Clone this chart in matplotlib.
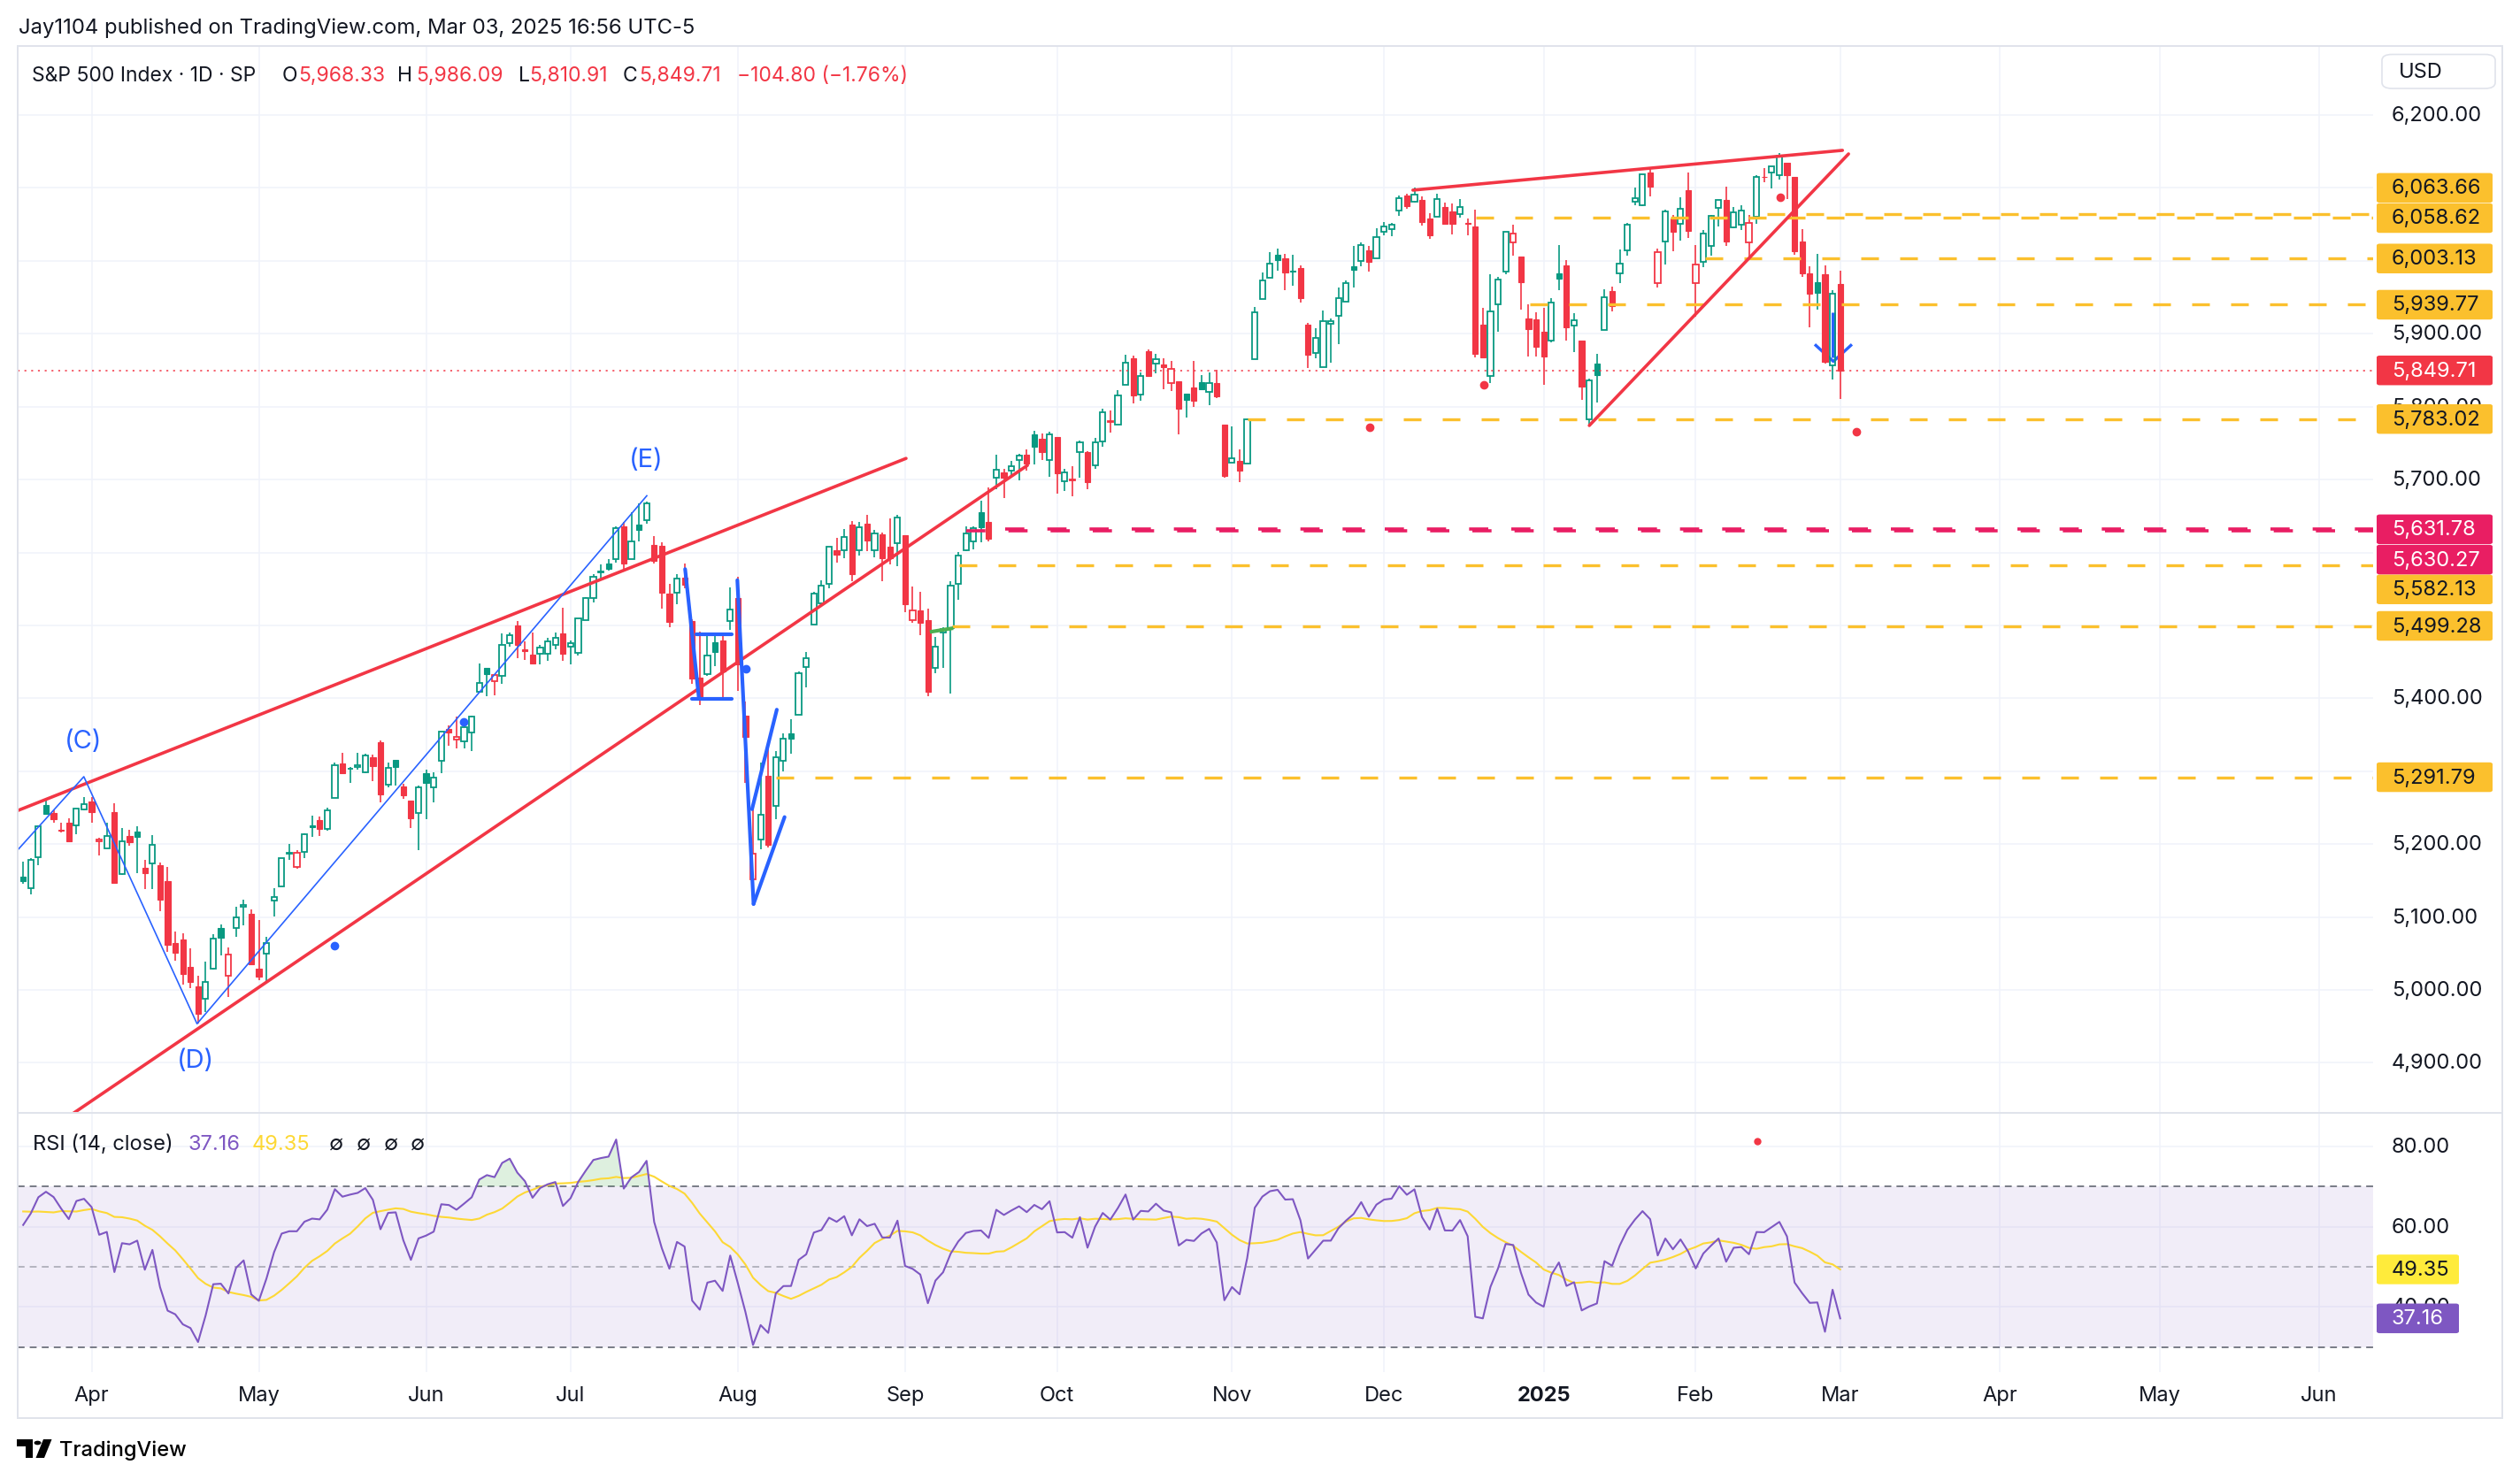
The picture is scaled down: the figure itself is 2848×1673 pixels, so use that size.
import numpy as np
import pandas as pd
import matplotlib
matplotlib.use("Agg")
import matplotlib.pyplot as plt
from matplotlib.patches import Rectangle, FancyBboxPatch, Polygon, Circle
from matplotlib.lines import Line2D
from matplotlib.transforms import blended_transform_factory

plt.rcParams['font.family'] = ['Inter', 'DejaVu Sans']

W, H = 2848, 1674

# S&P 500 daily bars, Mar 18 2024 .. Mar 3 2025 (bar 0 = Mar 18 2024)
first_day = '2024-03-18'
last_day = '2025-03-03'
holidays = ['2024-03-29', '2024-05-27', '2024-06-19', '2024-07-04', '2024-09-02',
            '2024-11-28', '2024-12-25', '2025-01-01', '2025-01-09', '2025-01-20',
            '2025-02-17', '2025-04-18', '2025-05-26']

open_ = [
    5154.77, 5139.09, 5181.69, 5253.43, 5242.48, 5219.52, 5228.85, 5226.31, 5248.03,
    5257.97, 5204.29, 5194.37, 5244.05, 5158.95, 5211.37, 5217.03, 5167.88, 5172.95, 5171.51, 5149.67,
    5064.59, 5068.97, 5031.52, 5005.44, 4987.33, 5028.85, 5084.86, 5019.88, 5084.65, 5114.13, 5103.78,
    5029.03, 5049.32, 5122.78, 5142.42, 5187.20, 5168.98, 5189.03, 5225.49, 5233.08, 5221.10, 5263.26,
    5310.07, 5303.10, 5305.35, 5298.69, 5319.28, 5340.26, 5281.45, 5315.91, 5278.73, 5259.77, 5243.21,
    5297.15, 5278.24, 5314.48, 5357.80, 5343.81, 5341.22, 5353.00, 5409.13, 5441.93, 5424.08, 5431.11,
    5476.15, 5499.99, 5466.77, 5459.58, 5460.73, 5460.71, 5473.59, 5488.48,
    5471.08, 5461.84, 5507.44, 5537.91, 5572.75, 5584.24, 5591.26, 5635.21, 5590.76, 5638.16, 5644.09,
    5610.07, 5608.56, 5543.37, 5544.54, 5565.30, 5505.84, 5428.70, 5433.67, 5476.55, 5478.73, 5505.59,
    5537.84, 5376.63, 5151.14, 5206.42, 5293.13, 5252.57, 5314.69, 5351.88, 5376.98, 5442.56, 5501.13,
    5530.50, 5557.23, 5602.88, 5603.09, 5637.77, 5602.83, 5639.66, 5602.89, 5624.51, 5607.30, 5612.74,
    5623.89, 5506.68, 5520.08, 5507.33, 5442.07, 5490.51, 5496.42, 5557.48, 5603.34, 5615.21, 5655.51,
    5641.68, 5702.63, 5709.55, 5711.90, 5727.38, 5733.65, 5762.22, 5755.36, 5726.52,
    5757.73, 5698.19, 5698.56, 5737.44, 5737.80, 5719.14, 5751.80, 5778.36, 5775.09, 5829.81, 5866.74,
    5816.58, 5875.62, 5859.43, 5857.82, 5832.70, 5834.50, 5817.80, 5826.75, 5833.93, 5819.68, 5832.65, 5775.34,
    5723.22, 5725.15, 5722.43, 5864.89, 5947.21, 5976.76, 6008.86, 6003.60, 5985.75, 5989.60, 5912.79,
    5874.17, 5853.63, 5914.02, 5924.30, 5944.36, 5992.28, 6000.03, 6014.11, 6003.98,
    6040.11, 6042.97, 6069.39, 6089.03, 6081.38, 6083.01, 6057.59, 6060.15, 6074.29, 6068.17, 6063.79,
    6052.55, 6047.65, 5912.71, 5842.00, 5940.25, 5984.63, 6024.97, 6006.17, 5920.67, 5919.74,
    5903.26, 5891.07, 5982.81, 5993.26, 5910.66, 5890.22, 5782.38, 5859.06, 5905.21, 5958.53, 5982.33,
    6014.12, 6081.39, 6076.32, 6121.43, 5969.04, 6026.97, 6057.70, 6050.75, 6096.79,
    5969.65, 5998.14, 6020.45, 6072.22, 6083.13, 6046.40, 6049.32, 6025.08, 6060.59, 6115.52, 6121.60,
    6117.76, 6134.50, 6114.82, 6026.69, 5982.73, 5970.87, 5981.88, 5856.74,
    5968.33,
]
high = [
    5175.60, 5180.31, 5226.19, 5261.10, 5246.09, 5229.09, 5235.16, 5249.26, 5264.85,
    5263.95, 5208.34, 5228.75, 5256.59, 5222.18, 5219.57, 5224.81, 5178.43, 5211.78, 5175.03, 5168.43,
    5079.84, 5077.96, 5056.66, 5019.02, 5038.84, 5076.12, 5089.48, 5057.75, 5114.62, 5123.49, 5110.83,
    5096.12, 5073.21, 5139.12, 5181.00, 5200.23, 5191.95, 5214.53, 5239.66, 5237.26, 5250.37, 5311.76,
    5325.49, 5305.45, 5325.32, 5324.32, 5323.18, 5341.88, 5311.65, 5315.91, 5282.27, 5260.21, 5280.33,
    5302.11, 5298.80, 5354.16, 5362.35, 5375.08, 5365.79, 5375.95, 5447.25, 5441.93, 5432.39, 5488.50,
    5490.38, 5505.53, 5478.31, 5490.66, 5472.88, 5483.14, 5490.81, 5523.64,
    5479.55, 5509.69, 5539.27, 5570.33, 5583.11, 5590.75, 5635.39, 5642.45, 5655.56, 5666.94, 5669.67,
    5622.49, 5614.05, 5557.50, 5570.36, 5585.34, 5508.04, 5491.59, 5488.32, 5487.74, 5489.46, 5551.51,
    5566.16, 5395.03, 5250.89, 5312.34, 5330.64, 5328.03, 5351.88, 5371.20, 5436.50, 5463.22, 5546.23,
    5561.98, 5608.30, 5620.51, 5632.68, 5643.22, 5641.82, 5651.62, 5631.18, 5627.03, 5646.95, 5651.37,
    5623.89, 5552.99, 5546.30, 5522.47, 5484.20, 5497.91, 5560.41, 5600.71, 5636.27, 5636.05, 5670.81,
    5689.75, 5733.57, 5715.14, 5725.36, 5735.32, 5741.03, 5767.37, 5763.78, 5765.14,
    5757.73, 5714.86, 5718.78, 5753.19, 5739.34, 5757.60, 5796.80, 5795.03, 5822.13, 5871.41, 5870.36,
    5846.52, 5878.46, 5872.17, 5866.92, 5863.04, 5834.85, 5817.80, 5862.82, 5842.92, 5847.19, 5850.94, 5775.34,
    5772.52, 5741.43, 5783.44, 5936.14, 5983.84, 6012.45, 6017.31, 6009.92, 6008.19, 5993.88, 5915.26,
    5908.12, 5932.18, 5920.67, 5963.18, 5972.90, 6020.75, 6025.42, 6020.16, 6044.17,
    6053.58, 6052.06, 6089.84, 6092.59, 6099.97, 6088.51, 6065.40, 6092.59, 6079.68, 6078.58, 6085.19,
    6057.68, 6070.67, 5935.52, 5982.06, 5978.25, 6040.10, 6049.75, 6006.17, 5940.79, 5929.74,
    5935.09, 5949.34, 6021.04, 6000.68, 5927.89, 5890.22, 5838.12, 5871.92, 5960.61, 5964.69, 6014.96,
    6051.51, 6100.81, 6118.73, 6128.18, 6017.17, 6069.92, 6062.83, 6086.64, 6120.91,
    6022.13, 6042.48, 6062.86, 6084.03, 6101.28, 6073.38, 6076.28, 6063.09, 6116.91, 6127.47, 6129.63,
    6147.43, 6134.50, 6114.82, 6043.65, 5992.65, 6009.82, 5993.69, 5959.40,
    5986.09,
]
low = [
    5145.47, 5131.59, 5171.55, 5240.66, 5229.87, 5216.09, 5203.42, 5213.92, 5245.82,
    5229.20, 5184.05, 5194.37, 5146.06, 5157.21, 5197.35, 5160.78, 5138.70, 5138.77, 5107.94, 5052.47,
    5039.83, 5007.25, 5001.89, 4953.56, 4969.40, 5027.96, 5047.02, 4990.58, 5073.14, 5088.65, 5035.31,
    5013.45, 5011.05, 5101.22, 5142.42, 5178.96, 5165.86, 5180.41, 5209.68, 5211.16, 5217.98, 5263.26,
    5296.19, 5283.59, 5302.40, 5297.87, 5286.01, 5256.93, 5278.39, 5280.89, 5262.70, 5222.10, 5191.68,
    5234.32, 5257.63, 5297.64, 5335.36, 5331.33, 5331.52, 5327.25, 5409.13, 5402.51, 5403.75, 5420.40,
    5471.32, 5455.56, 5452.03, 5447.59, 5446.56, 5451.87, 5467.54, 5451.12,
    5446.53, 5458.43, 5507.42, 5531.63, 5562.51, 5574.57, 5586.44, 5576.53, 5590.44, 5614.75, 5639.02,
    5584.81, 5522.81, 5497.04, 5529.04, 5550.90, 5419.98, 5390.95, 5430.70, 5444.44, 5401.24, 5493.75,
    5410.42, 5283.74, 5119.26, 5193.56, 5195.54, 5233.85, 5300.19, 5324.37, 5376.98, 5415.55, 5501.13,
    5525.17, 5550.74, 5585.50, 5591.57, 5560.95, 5595.37, 5602.34, 5593.48, 5560.95, 5583.71, 5581.79,
    5518.66, 5503.66, 5486.21, 5402.62, 5434.49, 5441.72, 5406.96, 5535.50, 5601.65, 5604.53, 5614.05,
    5615.08, 5686.42, 5674.49, 5704.22, 5698.99, 5712.06, 5721.01, 5727.34, 5703.53,
    5681.29, 5683.73, 5677.37, 5702.83, 5686.85, 5714.56, 5745.02, 5764.76, 5775.09, 5829.81, 5804.48,
    5808.34, 5840.25, 5846.11, 5824.06, 5821.17, 5762.41, 5784.92, 5799.98, 5823.08, 5802.17, 5811.28, 5702.86,
    5723.22, 5696.51, 5722.10, 5864.89, 5947.21, 5976.76, 5986.69, 5960.08, 5965.91, 5942.28, 5853.01,
    5865.95, 5853.63, 5860.58, 5885.46, 5944.36, 5963.91, 5992.27, 5984.87, 6003.98,
    6035.33, 6033.39, 6061.06, 6070.84, 6079.98, 6048.63, 6029.89, 6060.15, 6051.25, 6035.77, 6059.14,
    6035.19, 5867.79, 5866.07, 5832.30, 5902.57, 5981.44, 6007.37, 5932.95, 5869.16, 5868.86,
    5829.53, 5888.66, 5960.01, 5890.68, 5874.78, 5809.22, 5773.31, 5805.86, 5905.21, 5930.60, 5969.24,
    6006.88, 6076.13, 6074.67, 6088.74, 5962.92, 5994.63, 6012.96, 6027.46, 6030.93,
    5923.93, 5990.87, 6007.06, 6046.83, 6019.96, 6045.07, 6042.34, 6003.00, 6051.00, 6107.62, 6099.51,
    6111.15, 6084.59, 6008.56, 5977.83, 5908.49, 5932.69, 5858.78, 5837.66,
    5810.91,
]
close = [
    5149.42, 5178.51, 5224.62, 5241.53, 5234.18, 5218.19, 5203.58, 5248.49, 5254.35,
    5243.77, 5205.81, 5211.49, 5147.21, 5204.34, 5202.39, 5209.91, 5160.64, 5199.06, 5123.41, 5061.82,
    5051.41, 5022.21, 5011.12, 4967.23, 5010.60, 5070.55, 5071.63, 5048.42, 5099.96, 5116.17, 5035.69,
    5018.39, 5064.20, 5127.79, 5180.74, 5187.70, 5187.67, 5214.08, 5222.68, 5221.42, 5246.68, 5308.15,
    5297.10, 5303.27, 5308.13, 5321.41, 5307.01, 5267.84, 5304.72, 5306.04, 5266.95, 5235.48, 5277.51,
    5283.40, 5291.34, 5354.03, 5352.96, 5346.99, 5360.79, 5375.32, 5421.03, 5433.74, 5431.60, 5473.23,
    5487.03, 5473.17, 5464.62, 5447.87, 5469.30, 5477.90, 5482.87, 5460.48,
    5475.09, 5509.01, 5537.02, 5567.19, 5572.85, 5576.98, 5633.91, 5584.54, 5615.35, 5631.22, 5667.20,
    5588.27, 5544.59, 5505.00, 5564.41, 5555.74, 5427.13, 5399.22, 5459.10, 5463.54, 5436.44, 5522.30,
    5446.68, 5346.56, 5186.33, 5240.03, 5199.50, 5319.31, 5344.16, 5344.39, 5434.43, 5455.21, 5543.22,
    5554.25, 5608.25, 5597.12, 5620.85, 5570.64, 5634.61, 5616.84, 5625.80, 5592.18, 5591.96, 5648.40,
    5528.93, 5520.07, 5503.41, 5408.42, 5471.05, 5495.52, 5554.13, 5595.76, 5626.02, 5633.09, 5634.58,
    5618.26, 5713.64, 5702.55, 5718.57, 5732.93, 5722.26, 5745.37, 5738.17, 5762.48,
    5708.75, 5709.54, 5699.94, 5751.07, 5695.94, 5751.13, 5792.04, 5780.05, 5815.03, 5859.85, 5815.26,
    5842.47, 5841.47, 5864.67, 5853.98, 5851.20, 5797.42, 5809.86, 5808.12, 5823.52, 5832.92, 5813.67, 5705.45,
    5728.80, 5712.69, 5782.76, 5929.04, 5973.10, 5995.54, 6001.35, 5983.99, 5985.38, 5949.17, 5870.62,
    5893.62, 5916.98, 5917.11, 5948.71, 5969.34, 5987.37, 6021.63, 5998.74, 6032.38,
    6047.15, 6049.88, 6086.49, 6075.11, 6090.27, 6052.85, 6034.91, 6084.19, 6051.25, 6051.09, 6074.08,
    6050.61, 5872.16, 5867.08, 5930.85, 5974.07, 6040.04, 6037.59, 5970.84, 5906.94, 5881.63,
    5868.55, 5942.47, 5975.38, 5909.03, 5918.25, 5827.04, 5836.22, 5842.91, 5949.91, 5937.34, 5996.66,
    6049.24, 6086.37, 6118.71, 6101.24, 6012.28, 6067.70, 6039.31, 6071.17, 6040.53,
    5994.57, 6037.88, 6061.48, 6083.57, 6025.99, 6066.44, 6068.50, 6051.97, 6115.07, 6114.63, 6129.58,
    6144.15, 6117.52, 6013.13, 5983.25, 5955.25, 5956.06, 5861.57, 5954.50,
    5849.71,
]

# closes before the first visible bar (Jan 2 .. Mar 15 2024), only to seed RSI(14)
warmup_close = [
    4742.83, 4704.81, 4688.68, 4697.24, 4763.54, 4756.50, 4783.45, 4780.24, 4783.83, 4765.98,
    4739.21, 4780.94, 4839.81, 4850.43, 4864.60, 4868.55, 4894.16, 4890.97, 4927.93, 4924.97,
    4845.65, 4906.19, 4958.61, 4942.81, 4954.23, 4995.06, 4997.91, 5026.61, 5021.84, 4953.17,
    5000.62, 5029.73, 5005.57, 4975.51, 4981.80, 5087.03, 5088.80, 5069.53, 5078.18, 5069.76,
    5096.27, 5137.08, 5130.95, 5078.65, 5104.76, 5157.36, 5123.69, 5117.94, 5175.27, 5165.31,
    5150.48, 5117.09,
]

# drawings: (bar, price) anchors
wedge1_upper = [(-0.72, 5246.0), (116.13, 5729.0)]
wedge1_lower = [(6.0, 4826.6), (132.1, 5719.5)]
wedge2_upper = [(182.8, 6096.9), (239.3, 6151.5)]
wedge2_lower = [(206.0, 5774.1), (240.1, 6146.6)]
wave_path = [(-0.71, 5192.1), (7.98, 5292.5), (22.87, 4953.6), (82.03, 5677.8)]
wave_labels = [('(C)', 7.95, 5341.0), ('(D)', 22.7, 4904.0), ('(E)', 81.9, 5727.0)]
blue_thick = [
    [(87.07, 5577.2), (88.89, 5399.6)],
    [(88.58, 5487.5), (93.16, 5487.5)],
    [(87.93, 5399.6), (93.16, 5399.6)],
    [(93.94, 5562.0), (96.07, 5117.9)],
    [(96.07, 5117.9), (100.15, 5237.1)],
    [(95.87, 5247.9), (99.13, 5384.4)],
]
blue_dots = [(40.9, 5061.0), (57.95, 5368.0), (95.03, 5440.7)]
green_seg = [(119.5, 5491.4), (122.1, 5495.8)]
red_dots = [(177.1, 5771.3), (192.1, 5830.3), (231.1, 6087.2), (241.1, 5765.6)]
rsi_red_dot = (228.1, 81.2)
arrow_bar, arrow_top, arrow_tip, arrow_wing = 238.1, 5930.0, 5862.0, 5884.0

# horizontal levels: (price, start bar)
yellow_levels = [(6063.66, 229.4), (6058.62, 191.1), (6003.13, 221.2), (5939.77, 198.2),
                 (5783.02, 161.1), (5582.13, 123.1), (5499.28, 122.2), (5291.79, 99.06)]
pink_levels = [(5631.78, 129.2), (5630.27, 124.0)]
last_close = 5849.71
rsi_last, rsi_ma_last = '37.16', '49.35'

GREEN, RED, BLUE = '#089981', '#f23645', '#2962ff'
YEL, PINK, PURPLE, MAYEL = '#fbc02d', '#e91e63', '#7e57c2', '#fdd835'
GRID, BORDER, TXT = '#f0f3fa', '#e0e3eb', '#131722'

# --- RSI(14) with Wilder smoothing, MA 14 ---
allc = np.array(warmup_close + close)
d = np.diff(allc)
gain, loss = np.clip(d, 0, None), np.clip(-d, 0, None)
ag, al = np.zeros(len(d)), np.zeros(len(d))
ag[13], al[13] = gain[:14].mean(), loss[:14].mean()
for i in range(14, len(d)):
    ag[i] = (ag[i - 1] * 13 + gain[i]) / 14
    al[i] = (al[i - 1] * 13 + loss[i]) / 14
rsi_all = 100 - 100 / (1 + ag / al)
rsi_ma_all = pd.Series(rsi_all).rolling(14).mean().values
n = len(close)
rsi = rsi_all[-n:]
rsi_ma = rsi_ma_all[-n:]
xs = np.arange(n)

dates = pd.bdate_range(first_day, '2025-06-30', freq='C', holidays=holidays)
months = [(i, dd) for i, dd in enumerate(dates) if i > 0 and dd.month != dates[i - 1].month]

# --- figure ---
fig = plt.figure(figsize=(W / 100, H / 100), dpi=100)
fig.patch.set_facecolor('white')


def fx(x):
    return x / W


def fy(y):
    return 1 - y / H


L, R, TOP, SEP, BOT = 20, 2682, 53, 1259, 1552
ax = fig.add_axes([fx(L), fy(SEP), fx(R) - fx(L), fy(TOP) - fy(SEP)])
ax2 = fig.add_axes([fx(L), fy(BOT), fx(R) - fx(L), fy(SEP) - fy(BOT)], sharex=ax)
for a in (ax, ax2):
    for s in a.spines.values():
        s.set_visible(False)
    a.set_xticks([])
    a.set_yticks([])
ax.set_xlim(-0.72, 309.1)
ax.set_ylim(4831.4, 6294.6)
ax2.set_ylim(23.8, 88.3)

# grid
for p in range(4900, 6300, 100):
    ax.axhline(p, color=GRID, lw=1.1, zorder=0)
for v in (40, 60, 80):
    ax2.axhline(v, color=GRID, lw=1.1, zorder=0)
for i, dd in months:
    ax.axvline(i, color=GRID, lw=1.1, zorder=0)
    ax2.axvline(i, color=GRID, lw=1.1, zorder=0)

# arrow (sits behind candles)
ax.plot([arrow_bar, arrow_bar], [arrow_top, arrow_tip + 6], color=BLUE, lw=3.6, zorder=2, solid_capstyle='butt')
ax.plot([arrow_bar - 2.3, arrow_bar, arrow_bar + 2.3], [arrow_wing, arrow_tip, arrow_wing],
        color=BLUE, lw=2.4, zorder=2)

# candles
bw = 0.72
prev = warmup_close[-1]
for i in range(n):
    o, h, l, c = open_[i], high[i], low[i], close[i]
    col = GREEN if c >= prev else RED
    prev = c
    top, bot = max(o, c), min(o, c)
    ax.plot([i, i], [top, h], color=col, lw=1.2, zorder=3, solid_capstyle='butt')
    ax.plot([i, i], [l, bot], color=col, lw=1.2, zorder=3, solid_capstyle='butt')
    hgt = max(top - bot, 0.8)
    if c >= o:
        ax.add_patch(Rectangle((i - bw / 2, bot), bw, hgt, fill=False, ec=col, lw=1.3, zorder=3))
    else:
        ax.add_patch(Rectangle((i - bw / 2, bot), bw, hgt, fc=col, ec=col, lw=0.8, zorder=3))

# horizontal levels
for p, x0 in yellow_levels:
    ax.plot([x0, 400], [p, p], color=YEL, lw=2.4, ls=(0, (6, 7.2)), zorder=4)
for p, x0 in pink_levels:
    ax.plot([x0, 400], [p, p], color=PINK, lw=2.6, ls=(0, (6, 7.2)), zorder=4)
ax.axhline(last_close, color=RED, lw=1.1, ls=(0, (1.4, 3.6)), zorder=4)

# trend lines
for seg in (wedge1_upper, wedge1_lower, wedge2_upper, wedge2_lower):
    ax.plot(*zip(*seg), color=RED, lw=2.6, zorder=5, solid_capstyle='round')
ax.plot(*zip(*wave_path), color=BLUE, lw=1.2, zorder=5)
for seg in blue_thick:
    ax.plot(*zip(*seg), color=BLUE, lw=3.0, zorder=5, solid_capstyle='round')
ax.plot(*zip(*green_seg), color='#4caf50', lw=3.0, zorder=5)
for bx, by in blue_dots:
    ax.plot(bx, by, 'o', color=BLUE, ms=6, zorder=5)
for rx, ry in red_dots:
    ax.plot(rx, ry, 'o', color=RED, ms=6, zorder=5)
for t, bx, by in wave_labels:
    ax.text(bx, by, t, color=BLUE, fontsize=21, ha='center', va='center', zorder=6)

ax.set_xlim(-0.72, 309.1)

# RSI panel
ax2.axhspan(30, 70, color=PURPLE, alpha=0.1, lw=0, zorder=0.5)
ax2.axhline(70, color='#787b86', lw=1.4, ls=(0, (4, 3)), zorder=1)
ax2.axhline(30, color='#787b86', lw=1.4, ls=(0, (4, 3)), zorder=1)
ax2.axhline(50, color='#787b86', lw=1.4, ls=(0, (4, 3)), alpha=0.5, zorder=1)
ax2.fill_between(xs, 70, rsi, where=rsi > 70, interpolate=True, color='#4caf50', alpha=0.18, lw=0, zorder=1)
ax2.fill_between(xs, 30, rsi, where=rsi < 30, interpolate=True, color=RED, alpha=0.18, lw=0, zorder=1)
ax2.plot(xs, rsi_ma, color=MAYEL, lw=1.5, zorder=2)
ax2.plot(xs, rsi, color=PURPLE, lw=1.5, zorder=3)
ax2.plot(*rsi_red_dot, 'o', color=RED, ms=5, zorder=4)

# frame
for (x0, y0, x1, y1) in [(L, TOP, 2828, TOP), (L, SEP, 2828, SEP), (L, 1604, 2828, 1604),
                         (L, TOP, L, 1604), (2828, TOP, 2828, 1604)]:
    fig.add_artist(Line2D([fx(x0), fx(x1)], [fy(y0), fy(y1)], color=BORDER, lw=1.4, zorder=1))

# header texts
fig.text(fx(21), fy(32), 'Jay1104 published on TradingView.com, Mar 03, 2025 16:56 UTC-5',
         fontsize=17.2, color=TXT, va='center')
hdr = [(36.5, 'S&P 500 Index · 1D · SP', TXT), (319, 'O', TXT), (336.7, '5,968.33', RED),
       (449, 'H', TXT), (470, '5,986.09', RED), (585.8, 'L', TXT), (597.7, '5,810.91', RED),
       (703.6, 'C', TXT), (722.6, '5,849.71', RED), (833.4, '\u2212104.80 (\u22121.76%)', RED)]
for x, t, col in hdr:
    fig.text(fx(x), fy(86), t, fontsize=16.5, color=col, va='center', zorder=8)

rsi_hdr = [(37, 'RSI (14, close)', TXT), (212, rsi_last, PURPLE), (285, rsi_ma_last, MAYEL),
           (372, '\u2205', TXT), (403, '\u2205', TXT), (434, '\u2205', TXT), (464, '\u2205', TXT)]
for x, t, col in rsi_hdr:
    fig.text(fx(x), fy(1294), t, fontsize=17, color=col, va='center', zorder=8)

# time axis labels
tb = blended_transform_factory(ax.transData, fig.transFigure)
for i, dd in months:
    lab = '2025' if dd.month == 1 else dd.strftime('%b')
    fig.text(i, fy(1578), lab, transform=tb, fontsize=17, color=TXT, ha='center', va='center',
             fontweight='bold' if dd.month == 1 else 'normal')


# price axis
def ypx(a, v):
    return H - a.transData.transform((0, v))[1]


nudge = {6063.66: -30, 5630.27: 33, 5582.13: 27}
main_boxes = [(p, YEL, TXT) for p, _ in yellow_levels] + [(p, PINK, 'white') for p, _ in pink_levels]
main_boxes.append((last_close, RED, 'white'))
box_y = [ypx(ax, p) + nudge.get(p, 0) for p, _, _ in main_boxes]
rsi_boxes = [(float(rsi_ma_last), '#ffeb3b', TXT), (float(rsi_last), PURPLE, 'white')]
rsi_box_y = [ypx(ax2, v) for v, _, _ in rsi_boxes]

AXX = 2703
for p in range(4900, 6300, 100):
    yy = ypx(ax, p)
    hidden = any(abs(yy - b) < 12 for b in box_y)
    if TOP + 60 < yy < SEP - 15 and not hidden:
        fig.text(fx(AXX), fy(yy), f'{p:,.2f}', fontsize=17, color=TXT, va='center', zorder=5)
for v in (40, 60, 80):
    fig.text(fx(AXX), fy(ypx(ax2, v)), f'{v:.2f}', fontsize=17, color=TXT, va='center', zorder=5)


def box(yc, text, fc, tc, w=131, h=33.5):
    fig.add_artist(FancyBboxPatch((fx(2686), fy(yc + h / 2)), fx(w), h / H,
                                  boxstyle='round,pad=0,rounding_size=0.0012', fc=fc, ec='none',
                                  transform=fig.transFigure, zorder=6))
    fig.text(fx(AXX), fy(yc), text, fontsize=17, color=tc, va='center', zorder=7)


for (p, fc, tc), yy in zip(main_boxes, box_y):
    box(yy, f'{p:,.2f}', fc, tc)
box(rsi_box_y[0], rsi_ma_last, rsi_boxes[0][1], rsi_boxes[0][2], w=93)
box(rsi_box_y[1], rsi_last, rsi_boxes[1][1], rsi_boxes[1][2], w=93)

# USD button
fig.add_artist(FancyBboxPatch((fx(2692), fy(101)), fx(128), 38.5 / H,
                              boxstyle='round,pad=0,rounding_size=0.004', fc='white', ec=BORDER, lw=1.2,
                              transform=fig.transFigure, zorder=6))
fig.text(fx(2736), fy(82), 'USD', fontsize=17, color=TXT, ha='center', va='center', zorder=7)

# TradingView logo
logo_t = [(19, 1628), (37, 1628), (37, 1649), (29, 1649), (29, 1636), (19, 1636)]
fig.add_artist(Polygon([(fx(a), fy(b)) for a, b in logo_t], closed=True, fc='black', ec='none',
                       transform=fig.transFigure))
logo_v = [(49, 1628), (58.5, 1628), (50, 1649), (40.5, 1649)]
fig.add_artist(Polygon([(fx(a), fy(b)) for a, b in logo_v], closed=True, fc='black', ec='none',
                       transform=fig.transFigure))
fig.add_artist(Circle((fx(42.5), fy(1632)), 4 / W, fc='black', ec='none', transform=fig.transFigure))
fig.text(fx(67), fy(1640), 'TradingView', fontsize=17, color='black', va='center', fontweight='medium')

fig.savefig('out.png', dpi=100, facecolor='white')
